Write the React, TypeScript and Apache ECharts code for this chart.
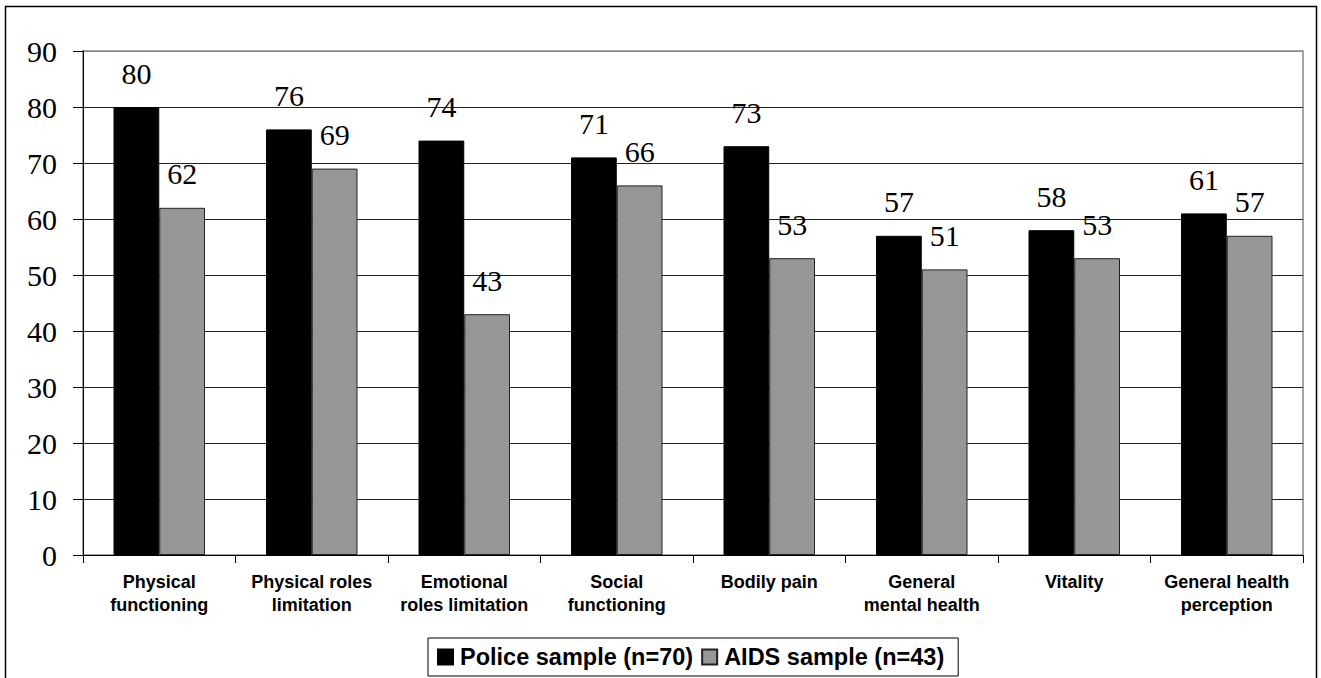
import React, { useEffect, useRef } from "react";
import * as echarts from "echarts";

const categories = [
  "Physical\nfunctioning",
  "Physical roles\nlimitation",
  "Emotional\nroles limitation",
  "Social\nfunctioning",
  "Bodily pain",
  "General\nmental health",
  "Vitality",
  "General health\nperception",
];
const policeValues = [80, 76, 74, 71, 73, 57, 58, 61];
const aidsValues = [62, 69, 43, 66, 53, 51, 53, 57];
const seriesNames = ["Police sample (n=70)", "AIDS sample (n=43)"];

export default function App() {
  const ref = useRef<HTMLDivElement>(null);
  useEffect(() => {
    document.body.style.margin = "0";
    const chart = echarts.init(ref.current!, null, { renderer: "svg" });
    const splitColors = ["#222", "#222", "#222", "#222", "#222", "#222", "#222", "#222", "#222", "#888"];
    const labelStyle = {
      show: true,
      position: "top",
      distance: 19,
      fontFamily: "Liberation Serif",
      fontSize: 30,
      color: "#000",
    };
    chart.setOption({
      animation: false,
      backgroundColor: "#fff",
      graphic: [
        {
          type: "rect",
          shape: { x: 5.5, y: 6.5, width: 1311, height: 700 },
          style: { fill: "none", stroke: "#000", lineWidth: 1.5 },
          silent: true,
          z: 100,
        },
      ],
      grid: {
        left: 83,
        right: 18,
        top: 51,
        bottom: 123,
        show: true,
        borderColor: "#888",
        borderWidth: 1.5,
        backgroundColor: "transparent",
      },
      legend: {
        data: seriesNames,
        left: 428,
        top: 638,
        orient: "horizontal",
        itemWidth: 15,
        itemHeight: 15,
        itemGap: 8,
        padding: [7, 14, 7, 9],
        borderColor: "#000",
        borderWidth: 1,
        icon: "rect",
        textStyle: {
          fontFamily: "Liberation Sans",
          fontWeight: "bold",
          fontSize: 23.5,
          color: "#000",
          padding: [0, 0, 0, 2],
        },
      },
      xAxis: {
        type: "category",
        data: categories,
        axisLine: { lineStyle: { color: "#000", width: 1 } },
        axisTick: { show: true, length: 8, lineStyle: { color: "#000" } },
        axisLabel: {
          interval: 0,
          margin: 15,
          fontFamily: "Liberation Sans",
          fontWeight: "bold",
          fontSize: 18,
          lineHeight: 23,
          color: "#000",
        },
      },
      yAxis: {
        type: "value",
        min: 0,
        max: 90,
        interval: 10,
        axisLine: { show: true, lineStyle: { color: "#000", width: 1 } },
        axisTick: { show: true, length: 10, lineStyle: { color: "#000" } },
        axisLabel: {
          margin: 26,
          fontFamily: "Liberation Serif",
          fontSize: 30,
          color: "#000",
        },
        splitLine: { show: true, lineStyle: { color: splitColors, width: 1 } },
      },
      series: [
        {
          name: seriesNames[0],
          type: "bar",
          data: policeValues,
          barGap: "0%",
          barCategoryGap: "40%",
          itemStyle: { color: "#000", borderColor: "#000", borderWidth: 1 },
          label: labelStyle,
        },
        {
          name: seriesNames[1],
          type: "bar",
          data: aidsValues,
          barGap: "0%",
          barCategoryGap: "40%",
          itemStyle: { color: "#969696", borderColor: "#222", borderWidth: 1 },
          label: labelStyle,
        },
      ],
    });
    return () => chart.dispose();
  }, []);
  return <div ref={ref} style={{ width: 1321, height: 678 }} />;
}
